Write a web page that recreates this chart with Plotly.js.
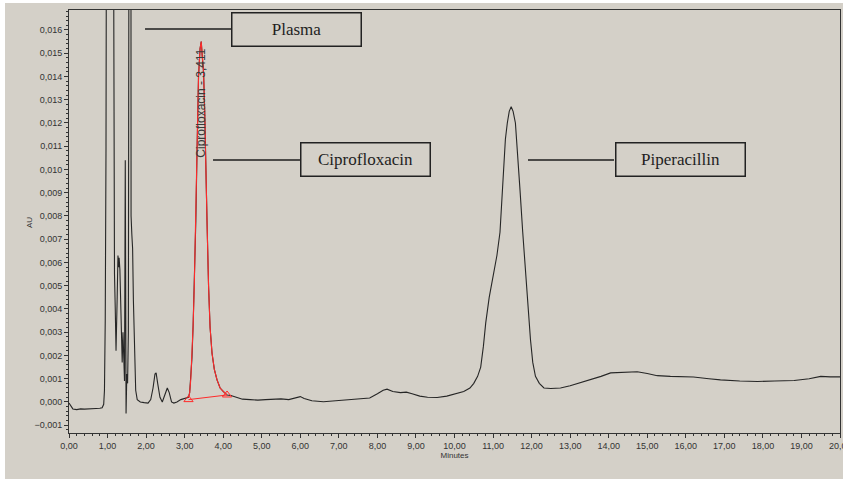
<!DOCTYPE html>
<html>
<head>
<meta charset="utf-8">
<script src="https://cdn.plot.ly/plotly-3.0.1.min.js"></script>
<style>
html,body{margin:0;padding:0;background:#ffffff;}
#chart{position:absolute;left:5px;top:3px;width:838px;height:476px;}
</style>
</head>
<body>
<div id="chart"></div>
<script>
// Chromatogram: retention time (minutes) and absorbance (AU)
var timeMin = [
  0.00,0.05,0.10,0.20,0.30,0.40,0.50,0.60,0.70,0.80,0.86,0.90,0.92,0.94,0.96,0.98,1.02,1.10,1.14,1.16,
  1.18,1.20,1.22,1.25,1.27,1.29,1.30,1.32,1.34,1.36,1.38,1.40,1.42,1.44,1.46,1.47,1.48,1.50,1.52,1.54,
  1.56,1.58,1.60,1.61,1.63,1.65,1.67,1.70,1.73,1.77,1.85,1.95,2.05,2.12,2.18,2.23,2.26,2.30,2.36,2.42,
  2.48,2.55,2.60,2.66,2.72,2.80,2.90,3.00,3.06,3.10,3.13,3.16,3.19,3.22,3.25,3.29,3.32,3.36,3.40,3.43,
  3.46,3.49,3.52,3.55,3.58,3.62,3.66,3.71,3.77,3.84,3.92,4.00,4.10,4.20,4.35,4.50,4.70,4.90,5.10,5.30,
  5.50,5.70,5.85,6.00,6.10,6.30,6.60,6.90,7.20,7.50,7.80,8.00,8.15,8.25,8.40,8.60,8.75,8.90,9.10,9.30,
  9.55,9.80,10.00,10.24,10.40,10.50,10.60,10.68,10.75,10.81,10.90,11.02,11.10,11.18,11.26,11.32,11.37,11.42,11.47,11.52,
  11.58,11.64,11.70,11.77,11.84,11.90,11.97,12.03,12.10,12.20,12.32,12.50,12.75,13.00,13.27,13.53,13.80,14.05,14.40,14.74,
  15.00,15.26,15.60,16.20,16.60,16.90,17.40,17.86,18.30,18.81,19.20,19.50,19.75,20.00
];
var absorbanceAU = [
  -0.00005,-0.0002,-0.0003,-0.00033,-0.0003,-0.00031,-0.00029,-0.0003,-0.00028,-0.00027,-0.00025,-0.0001,0.0005,0.0035,0.011,0.03,0.05,0.05,0.03,0.011,
  0.0055,0.004,0.0022,0.0045,0.0063,0.0058,0.0062,0.0057,0.0045,0.0025,0.0017,0.003,0.0012,0.0009,0.0104,0.003,-0.0005,0.0012,0.0008,0.003,
  0.02,0.05,0.05,0.008,0.0072,0.0066,0.0044,0.0015,0.0005,0.0001,0.0,-0.00003,-0.00005,0.0001,0.0006,0.0012,0.00125,0.0008,0.0002,0.0,
  0.0003,0.0006,0.0004,0.0,-0.00005,0.0,0.0001,0.00015,0.00015,0.0002,0.0004,0.001,0.0019,0.0033,0.005,0.0078,0.0107,0.0140,0.0152,0.0155,
  0.0148,0.0142,0.0125,0.0107,0.0078,0.005,0.0032,0.0021,0.0014,0.00095,0.0006,0.00045,0.0003,0.00028,0.0002,0.00012,0.0001,0.00008,0.0001,0.00012,
  0.00013,0.0001,0.00015,0.00023,0.00015,0.00005,0.00001,0.00005,0.0001,0.00012,0.00017,0.00035,0.0005,0.00055,0.00045,0.0004,0.00042,0.00035,0.00025,0.0002,
  0.00019,0.00025,0.00035,0.00045,0.0006,0.0008,0.0011,0.0015,0.0024,0.0034,0.0045,0.0056,0.0063,0.0073,0.0099,0.0113,0.012,0.0125,0.0127,0.0125,
  0.012,0.0107,0.0091,0.0073,0.0056,0.0041,0.0027,0.0017,0.0011,0.0008,0.0006,0.00058,0.0006,0.0007,0.00083,0.00095,0.0011,0.00125,0.00128,0.0013,
  0.00122,0.00113,0.0011,0.00107,0.001,0.00095,0.0009,0.00088,0.0009,0.00092,0.001,0.0011,0.00108,0.00108
];
// Integrated ciprofloxacin peak window and its baseline
var ciproStart = 3.10;
var ciproEnd = 4.10;
var ciproBaseT = [3.10, 4.10];
var ciproBaseAU = [0.0001, 0.0003];
var ciproLabel = "Ciprofloxacin - 3,411";
var ciproLabelT = 3.43;
var ciproLabelAU = 0.01284;

var xTickVals = [0,1,2,3,4,5,6,7,8,9,10,11,12,13,14,15,16,17,18,19,20];
var yTickVals = [-0.001,0,0.001,0.002,0.003,0.004,0.005,0.006,0.007,0.008,0.009,0.010,0.011,0.012,0.013,0.014,0.015,0.016];
var xLastTick = 20;

var ciproT = [], ciproAU = [];
for (var i = 0; i < timeMin.length; i++) {
  if (timeMin[i] >= ciproStart && timeMin[i] <= ciproEnd) { ciproT.push(timeMin[i]); ciproAU.push(absorbanceAU[i]); }
}

var traces = [
  {x: timeMin, y: absorbanceAU, type: 'scatter', mode: 'lines',
   line: {color: '#262626', width: 1.1}, hoverinfo: 'skip'},
  {x: ciproT, y: ciproAU, type: 'scatter', mode: 'lines',
   line: {color: '#ff2a2a', width: 1.1}, hoverinfo: 'skip'},
  {x: ciproBaseT, y: ciproBaseAU, type: 'scatter', mode: 'lines+markers',
   line: {color: '#ff2a2a', width: 1}, marker: {symbol: 'triangle-up-open', size: 8, color: '#ff2a2a', line: {width: 1, color: '#ff2a2a'}},
   hoverinfo: 'skip'}
];

var sansFam = 'Liberation Sans';
var tickFont = {family: sansFam, size: 9, color: '#333333'};
var boxFont = {family: 'Liberation Serif', size: 17, color: '#1e1e1e'};

function box(text, xc, yc) {
  return {text: text, xref: 'paper', yref: 'paper', x: xc, y: yc, xanchor: 'center', yanchor: 'middle',
    showarrow: false, font: boxFont, bordercolor: '#222222', borderwidth: 1.5, borderpad: 1,
    width: 126, height: 30, bgcolor: 'rgba(0,0,0,0)'};
}
function lead(x0, x1, y) {
  return {type: 'line', xref: 'paper', yref: 'paper', x0: x0, x1: x1, y0: y, y1: y,
    line: {color: '#1e1e1e', width: 1.5}};
}

var layout = {
  width: 838, height: 476,
  paper_bgcolor: '#d4d0c8', plot_bgcolor: '#d4d0c8',
  margin: {l: 64, r: 3, t: 7, b: 46},
  showlegend: false,
  separators: ',.',
  xaxis: {
    range: [0, 20], tickvals: xTickVals, tickformat: '.2f',
    ticks: 'outside', ticklen: 4, tickcolor: '#333', tickwidth: 1,
    minor: {dtick: 0.2, ticks: 'outside', ticklen: 2, tickcolor: '#333', showgrid: false},
    showgrid: false, zeroline: false,
    showline: true, linecolor: '#333', linewidth: 1, mirror: true,
    tickfont: tickFont,
    title: {text: 'Minutes', font: {family: sansFam, size: 8, color: '#333'}, standoff: 2}
  },
  yaxis: {
    range: [-0.001336, 0.01686], tickvals: yTickVals, tickformat: '.3f',
    ticks: 'outside', ticklen: 4, tickcolor: '#333', tickwidth: 1,
    minor: {dtick: 0.0002, ticks: 'outside', ticklen: 2, tickcolor: '#333', showgrid: false},
    showgrid: false, zeroline: false,
    showline: true, linecolor: '#333', linewidth: 1, mirror: true,
    tickfont: tickFont
  },
  annotations: [
    box('Plasma', 0.2957, 0.955),
    box('Ciprofloxacin', 0.3852, 0.6454),
    box('Piperacillin', 0.7925, 0.6454),
    {text: ciproLabel, xref: 'x', yref: 'y', x: ciproLabelT, y: ciproLabelAU, textangle: -90,
     showarrow: false, xanchor: 'center', yanchor: 'middle',
     font: {family: sansFam, size: 12, color: '#3a3a3a'}},
    {text: 'AU', xref: 'paper', yref: 'paper', x: -0.0519, y: 0.4988, textangle: -90,
     showarrow: false, xanchor: 'center', yanchor: 'middle',
     font: {family: sansFam, size: 8, color: '#333'}},
    {text: xLastTick.toFixed(2).replace('.', ','), xref: 'x', yref: 'paper', x: xLastTick, y: 0, yshift: -6,
     showarrow: false, xanchor: 'center', yanchor: 'top', font: tickFont}
  ],
  shapes: [
    lead(0.0986, 0.2114, 0.955),
    lead(0.1868, 0.2996, 0.6454),
    lead(0.5953, 0.7069, 0.6454)
  ]
};

Plotly.newPlot('chart', traces, layout, {displayModeBar: false, staticPlot: true});
</script>
</body>
</html>
